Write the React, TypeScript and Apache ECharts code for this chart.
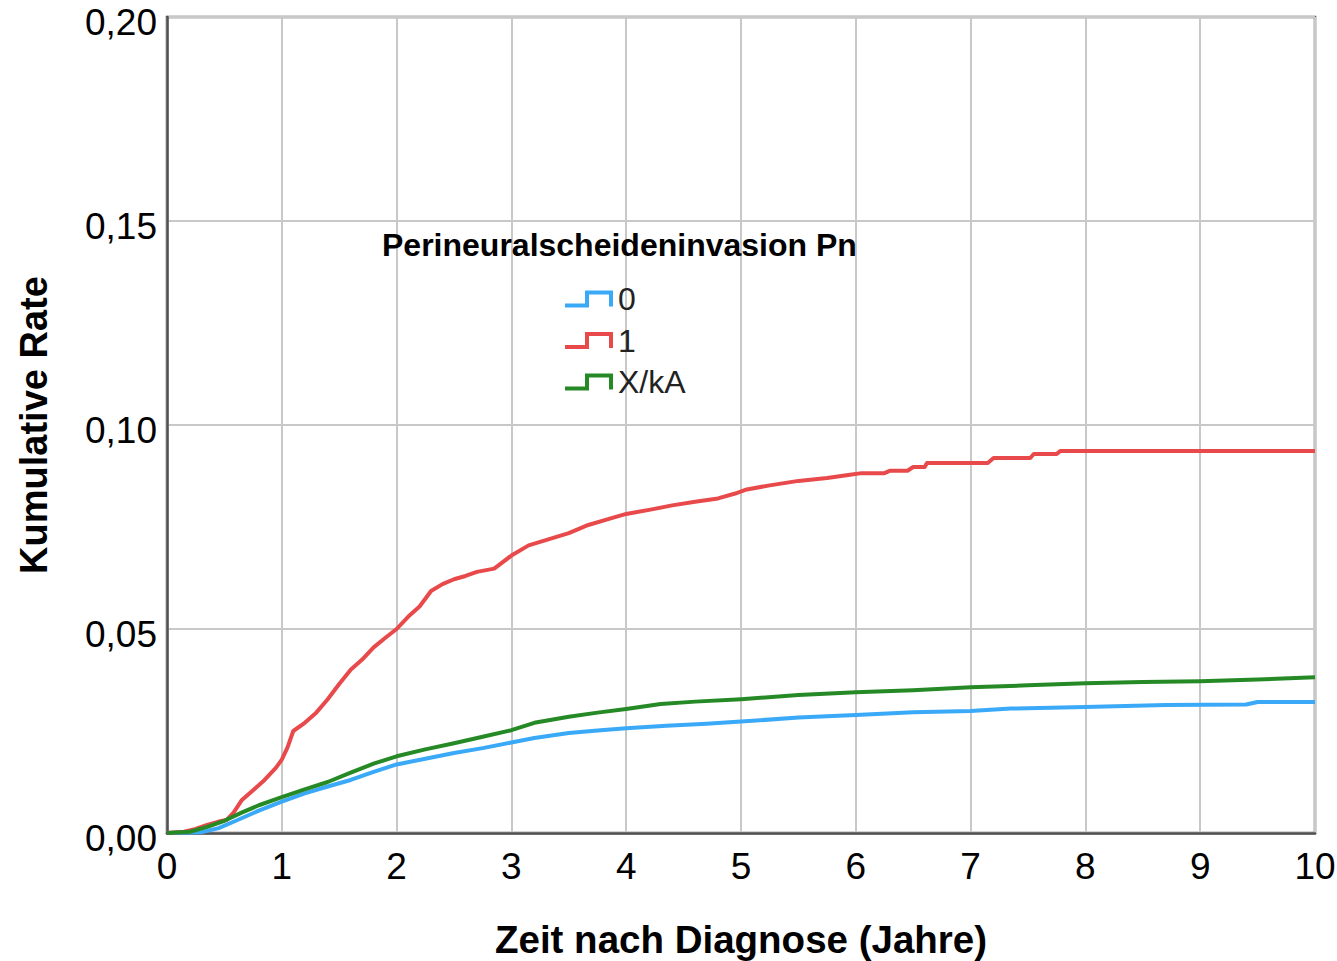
import React, { useEffect, useRef } from "react";
import * as echarts from "echarts";

// Time after diagnosis (years) and cumulative rate
const pn0Time = [0, 0.3, 0.45, 0.6, 0.8, 1.0, 1.2, 1.4, 1.6, 1.8, 2.0, 2.25, 2.5, 2.75, 3.0, 3.2, 3.5, 3.75, 4.0, 4.35, 4.7, 5.0, 5.5, 6.0, 6.5, 7.0, 7.35, 8.0, 8.7, 9.4, 9.5, 10];
const pn0Rate = [0, 0.0002, 0.0012, 0.003, 0.0055, 0.0077, 0.0097, 0.0114, 0.013, 0.015, 0.0168, 0.0182, 0.0196, 0.0208, 0.0222, 0.0233, 0.0245, 0.0251, 0.0257, 0.0263, 0.0268, 0.0273, 0.0283, 0.0289, 0.0296, 0.0299, 0.0305, 0.0309, 0.0314, 0.0315, 0.0321, 0.0321];

const pn1Time = [0, 0.15, 0.25, 0.35, 0.45, 0.52, 0.58, 0.65, 0.75, 0.85, 0.95, 1.0, 1.05, 1.1, 1.2, 1.3, 1.4, 1.5, 1.6, 1.7, 1.8, 1.9, 2.0, 2.1, 2.2, 2.3, 2.4, 2.5, 2.6, 2.7, 2.85, 3.0, 3.15, 3.3, 3.5, 3.67, 3.85, 4.0, 4.2, 4.4, 4.6, 4.8, 4.95, 5.05, 5.25, 5.5, 5.75, 5.95, 6.05, 6.25, 6.3, 6.45, 6.5, 6.6, 6.62, 7.15, 7.2, 7.52, 7.55, 7.75, 7.78, 10];
const pn1Rate = [0, 0.0003, 0.001, 0.002, 0.0028, 0.0032, 0.005, 0.008, 0.0105, 0.013, 0.016, 0.018, 0.021, 0.025, 0.027, 0.0295, 0.0328, 0.0365, 0.04, 0.0425, 0.0455, 0.0478, 0.05, 0.053, 0.0555, 0.0593, 0.061, 0.0622, 0.063, 0.064, 0.0648, 0.068, 0.0705, 0.0718, 0.0735, 0.0755, 0.077, 0.0782, 0.0792, 0.0803, 0.0812, 0.082, 0.0832, 0.0842, 0.0852, 0.0863, 0.087, 0.0878, 0.0882, 0.0882, 0.0888, 0.0888, 0.0897, 0.0897, 0.0907, 0.0907, 0.0919, 0.0919, 0.0929, 0.0929, 0.0936, 0.0936];

const pnXTime = [0, 0.2, 0.35, 0.5, 0.65, 0.8, 1.0, 1.2, 1.4, 1.6, 1.8, 2.0, 2.25, 2.5, 2.75, 3.0, 3.2, 3.5, 3.75, 4.0, 4.3, 4.6, 5.0, 5.5, 6.0, 6.5, 7.0, 7.5, 8.0, 8.5, 9.0, 9.5, 10];
const pnXRate = [0, 0.0003, 0.0015, 0.003, 0.005, 0.0068, 0.0088, 0.0107, 0.0125, 0.0148, 0.017, 0.0188, 0.0205, 0.022, 0.0236, 0.0252, 0.027, 0.0285, 0.0295, 0.0304, 0.0316, 0.0322, 0.0328, 0.0338, 0.0345, 0.035, 0.0357, 0.0362, 0.0367, 0.037, 0.0372, 0.0376, 0.0382];

const seriesNames = ["0", "1", "X/kA"];
const seriesColors = ["#3aa9f7", "#e84a4c", "#258a25"];
const xTicks = { min: 0, max: 10, interval: 1 };
const yTicks = { min: 0, max: 0.2, interval: 0.05 };

const legendTitle = "Perineuralscheideninvasion Pn";
const xTitle = "Zeit nach Diagnose (Jahre)";
const yTitle = "Kumulative Rate";

const pairs = (t: number[], v: number[]) => t.map((x, i) => [x, v[i]]);

const FONT = "'Liberation Sans', Arial, sans-serif";
const stepIcon = "path://M0,13 L20,13 L20,0 L48,0 L48,16 L44,16 L44,4 L24,4 L24,17 L0,17 Z";

export default function App() {
  const ref = useRef<HTMLDivElement>(null);
  useEffect(() => {
    if (!ref.current) return;
    const chart = echarts.init(ref.current, null, { renderer: "svg" });
    const data = [pairs(pn0Time, pn0Rate), pairs(pn1Time, pn1Rate), pairs(pnXTime, pnXRate)];
    chart.setOption({
      animation: false,
      backgroundColor: "#ffffff",
      title: {
        text: legendTitle,
        left: 382,
        top: 229,
        padding: 0,
        textStyle: { fontFamily: FONT, fontSize: 32, fontWeight: "bold", color: "#000" },
      },
      legend: {
        orient: "vertical",
        left: 565,
        top: 283,
        padding: 0,
        itemWidth: 48,
        itemHeight: 17,
        itemGap: 9.5,
        icon: stepIcon,
        data: seriesNames.map((n, i) => ({ name: n, itemStyle: { color: seriesColors[i] } })),
        textStyle: { fontFamily: FONT, fontSize: 32, lineHeight: 32, color: "#222" },
      },
      grid: {
        left: 167,
        top: 17,
        right: 22,
        bottom: 128,
        show: true,
        containLabel: false,
        outerBoundsMode: "none",
        borderColor: "#505050",
        borderWidth: 2.5,
        backgroundColor: "transparent",
      },
      xAxis: {
        type: "value",
        min: xTicks.min,
        max: xTicks.max,
        interval: xTicks.interval,
        name: xTitle,
        nameLocation: "middle",
        nameGap: 87,
        nameMoveOverlap: false,
        nameTextStyle: { fontFamily: FONT, fontSize: 38.5, fontWeight: "bold", color: "#000" },
        axisLine: { show: true, lineStyle: { color: "#505050", width: 2.5 } },
        axisTick: { show: false },
        axisLabel: { fontFamily: FONT, fontSize: 37, color: "#000", margin: 15, hideOverlap: false },
        splitLine: { show: true, lineStyle: { color: "#c8c8c8", width: 2 } },
      },
      yAxis: {
        type: "value",
        min: yTicks.min,
        max: yTicks.max,
        interval: yTicks.interval,
        name: yTitle,
        nameLocation: "middle",
        nameGap: 114,
        nameMoveOverlap: false,
        nameTextStyle: { fontFamily: FONT, fontSize: 38, fontWeight: "bold", color: "#000" },
        axisLine: { show: true, lineStyle: { color: "#505050", width: 2.5 } },
        axisTick: { show: false },
        axisLabel: {
          fontFamily: FONT,
          fontSize: 37,
          color: "#000",
          margin: 10,
          verticalAlign: "top",
          lineHeight: 10,
          hideOverlap: false,
          formatter: (v: number) => v.toFixed(2).replace(".", ","),
        },
        splitLine: { show: true, lineStyle: { color: "#c8c8c8", width: 2 } },
      },
      series: seriesNames.map((n, i) => ({
        name: n,
        type: "line",
        data: data[i],
        showSymbol: false,
        symbol: "none",
        clip: true,
        lineStyle: { color: seriesColors[i], width: 4, join: "round" },
        itemStyle: { color: seriesColors[i] },
        z: i === 0 ? 2 : 3,
      })),
    });
    return () => chart.dispose();
  }, []);
  return (
    <div
      ref={ref}
      style={{ position: "fixed", left: 0, top: 0, width: 1337, height: 961 }}
    />
  );
}
